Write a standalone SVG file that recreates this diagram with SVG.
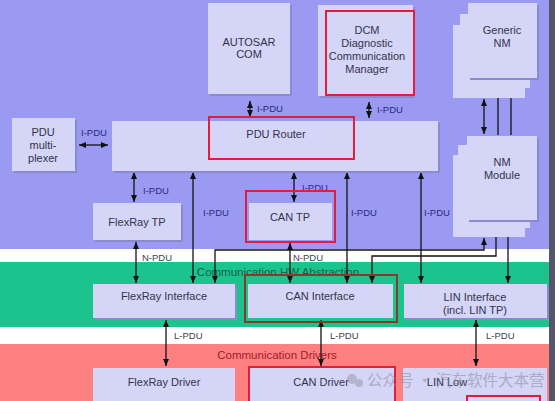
<svg xmlns="http://www.w3.org/2000/svg" width="555" height="401" viewBox="0 0 555 401">
<style>
.box{fill:#d5d5f8;stroke:none}
.sh{fill:#8a8ad0}
.t{font-family:"Liberation Sans",Arial,sans-serif;font-size:11px;fill:#33334a;text-anchor:middle}
.lb{font-family:"Liberation Sans",Arial,sans-serif;font-size:9.5px;fill:#2b2b7a}
.lb2{font-family:"Liberation Sans",Arial,sans-serif;font-size:9.5px;fill:#404050}
.hl{fill:none;stroke:#e0203a;stroke-width:2}
.cn{fill:none;stroke:#111;stroke-width:1.3}
.band{font-family:"Liberation Sans",Arial,sans-serif;font-size:11.5px;text-anchor:middle}
</style>
<defs>
<marker id="ah" markerUnits="userSpaceOnUse" markerWidth="7" markerHeight="6" refX="7" refY="3" orient="auto-start-reverse"><path d="M0,0 L7,3 L0,6 z" fill="#111"/></marker>
</defs>
<g id="background">
<rect x="0" y="0" width="555" height="401" fill="#9a9af2"/>
<rect x="0" y="249" width="555" height="13" fill="#ffffff"/>
<rect x="0" y="262" width="555" height="65" fill="#1bc48d"/>
<rect x="0" y="327" width="555" height="17" fill="#ffffff"/>
<rect x="0" y="344" width="555" height="57" fill="#ff8080"/>
<rect x="549" y="0" width="6" height="401" fill="#55556a"/>
<text class="band" x="278" y="276" fill="#1d5a4a">Communication HW Abstraction</text>
<text class="band" x="277" y="359" fill="#a01a2a">Communication Drivers</text>
</g>
<g id="connectors">
<path class="cn" d="M250,101 V117" marker-start="url(#ah)" marker-end="url(#ah)"/>
<path class="cn" d="M369,102 V118" marker-start="url(#ah)" marker-end="url(#ah)"/>
<path class="cn" d="M79,145 H108" marker-start="url(#ah)" marker-end="url(#ah)"/>
<path class="cn" d="M134,172 V202" marker-start="url(#ah)" marker-end="url(#ah)"/>
<path class="cn" d="M193,172 V283" marker-start="url(#ah)" marker-end="url(#ah)"/>
<path class="cn" d="M294,172 V202" marker-start="url(#ah)" marker-end="url(#ah)"/>
<path class="cn" d="M347,172 V283" marker-start="url(#ah)" marker-end="url(#ah)"/>
<path class="cn" d="M421,172 V283" marker-start="url(#ah)" marker-end="url(#ah)"/>
<path class="cn" d="M136,242 V283" marker-start="url(#ah)" marker-end="url(#ah)"/>
<path class="cn" d="M290,243 V283" marker-start="url(#ah)" marker-end="url(#ah)"/>
<path class="cn" d="M215,283 V250 H484 V238" marker-start="url(#ah)" marker-end="url(#ah)"/>
<path class="cn" d="M372,283 V256 H496 V229" marker-start="url(#ah)" marker-end="url(#ah)"/>
<path class="cn" d="M508,221 V283" marker-start="url(#ah)" marker-end="url(#ah)"/>
<path class="cn" d="M484,99 V134" marker-start="url(#ah)" marker-end="url(#ah)"/>
<path class="cn" d="M498,135 V91" marker-end="url(#ah)"/>
<path class="cn" d="M511,135 V83" marker-end="url(#ah)"/>
<path class="cn" d="M166,320 V366" marker-start="url(#ah)" marker-end="url(#ah)"/>
<path class="cn" d="M321,320 V366" marker-start="url(#ah)" marker-end="url(#ah)"/>
<path class="cn" d="M476,320 V366" marker-start="url(#ah)" marker-end="url(#ah)"/>
<text class="lb" x="94" y="136" text-anchor="middle">I-PDU</text>
<text class="lb" x="257" y="112">I-PDU</text>
<text class="lb" x="377" y="113">I-PDU</text>
<text class="lb" x="143" y="194">I-PDU</text>
<text class="lb" x="203" y="216">I-PDU</text>
<text class="lb" x="302" y="191">I-PDU</text>
<text class="lb" x="351" y="216">I-PDU</text>
<text class="lb" x="424" y="216">I-PDU</text>
<text class="lb2" x="142" y="261">N-PDU</text>
<text class="lb2" x="293" y="261">N-PDU</text>
<text class="lb2" x="174" y="339">L-PDU</text>
<text class="lb2" x="330" y="339">L-PDU</text>
<text class="lb2" x="486" y="339">L-PDU</text>
</g>
<g id="autosar-com">
<rect class="sh" x="210" y="5" width="82" height="91"/>
<rect class="box" x="208" y="3" width="82" height="91"/>
<text class="t" x="249" y="46">AUTOSAR</text>
<text class="t" x="249" y="58">COM</text>
</g>
<g id="dcm">
<rect class="sh" x="320" y="7" width="95" height="91"/>
<rect class="box" x="318" y="5" width="95" height="91"/>
<rect class="hl" x="326" y="11" width="88" height="84"/>
<text class="t" x="367" y="34">DCM</text>
<text class="t" x="367" y="47">Diagnostic</text>
<text class="t" x="367" y="60">Communication</text>
<text class="t" x="367" y="73">Manager</text>
</g>
<g id="generic-nm">
<rect class="box" x="453" y="25" width="72" height="73" stroke="#b8b8e8" stroke-width="1"/>
<rect class="box" x="460" y="14" width="70" height="74" stroke="#b8b8e8" stroke-width="1"/>
<rect class="sh" x="470" y="5" width="69" height="75"/>
<rect class="box" x="468" y="3" width="69" height="75"/>
<text class="t" x="502" y="34">Generic</text>
<text class="t" x="502" y="47">NM</text>
</g>
<g id="nm-module">
<rect class="box" x="453" y="155" width="72" height="82" stroke="#b8b8e8" stroke-width="1"/>
<rect class="box" x="458" y="145" width="72" height="83" stroke="#b8b8e8" stroke-width="1"/>
<rect class="sh" x="469" y="138" width="70" height="84"/>
<rect class="box" x="467" y="136" width="70" height="84"/>
<text class="t" x="502" y="166">NM</text>
<text class="t" x="502" y="179">Module</text>
</g>
<g id="pdu-mux">
<rect class="sh" x="14" y="120" width="63" height="53"/>
<rect class="box" x="12" y="118" width="63" height="53"/>
<text class="t" x="43" y="136">PDU</text>
<text class="t" x="43" y="149">multi-</text>
<text class="t" x="43" y="162">plexer</text>
</g>
<g id="pdu-router">
<rect class="sh" x="114" y="123" width="326" height="50"/>
<rect class="box" x="112" y="121" width="326" height="50"/>
<rect class="hl" x="209" y="117" width="145" height="42"/>
<text class="t" x="276" y="138">PDU Router</text>
</g>
<g id="flexray-tp">
<rect class="sh" x="95" y="205" width="88" height="37"/>
<rect class="box" x="93" y="203" width="88" height="37"/>
<text class="t" x="137" y="226">FlexRay TP</text>
</g>
<g id="can-tp">
<rect class="box" x="249" y="203" width="83" height="37"/>
<rect class="hl" x="246" y="191" width="89" height="51"/>
<text class="t" x="290" y="221">CAN TP</text>
</g>
<g id="flexray-interface">
<rect class="sh" x="95" y="286" width="142" height="34"/>
<rect class="box" x="93" y="284" width="142" height="34"/>
<text class="t" x="164" y="300">FlexRay Interface</text>
</g>
<g id="can-interface">
<rect class="box" x="248" y="284" width="145" height="34"/>
<rect x="245" y="275" width="152" height="47" fill="none" stroke="#8a3a2a" stroke-width="2"/>
<text class="t" x="320" y="300">CAN Interface</text>
</g>
<g id="lin-interface">
<rect class="sh" x="406" y="286" width="143" height="34"/>
<rect class="box" x="404" y="284" width="143" height="34"/>
<text class="t" x="475" y="301">LIN Interface</text>
<text class="t" x="475" y="314">(incl. LIN TP)</text>
</g>
<g id="flexray-driver">
<rect class="box" x="93" y="368" width="142" height="40"/>
<text class="t" x="164" y="386">FlexRay Driver</text>
</g>
<g id="can-driver">
<rect class="box" x="249" y="368" width="146" height="40"/>
<rect class="hl" x="249" y="367" width="146" height="40"/>
<text class="t" x="321" y="386">CAN Driver</text>
</g>
<g id="lin-low">
<rect class="box" x="403" y="368" width="144" height="40"/>
<rect class="hl" x="467" y="396" width="73" height="10"/>
<text class="t" x="447" y="386">LIN Low</text>
</g>
<g id="watermark" opacity="0.55">
<circle cx="352" cy="379" r="5" fill="#9a9aa8"/>
<circle cx="359" cy="383" r="4" fill="#9a9aa8"/>
<text x="367" y="386" font-family="'Noto Sans CJK SC',sans-serif" font-size="15.5" fill="#8a8a98">公众号 · 汽车软件大本营</text>
</g>
</svg>
